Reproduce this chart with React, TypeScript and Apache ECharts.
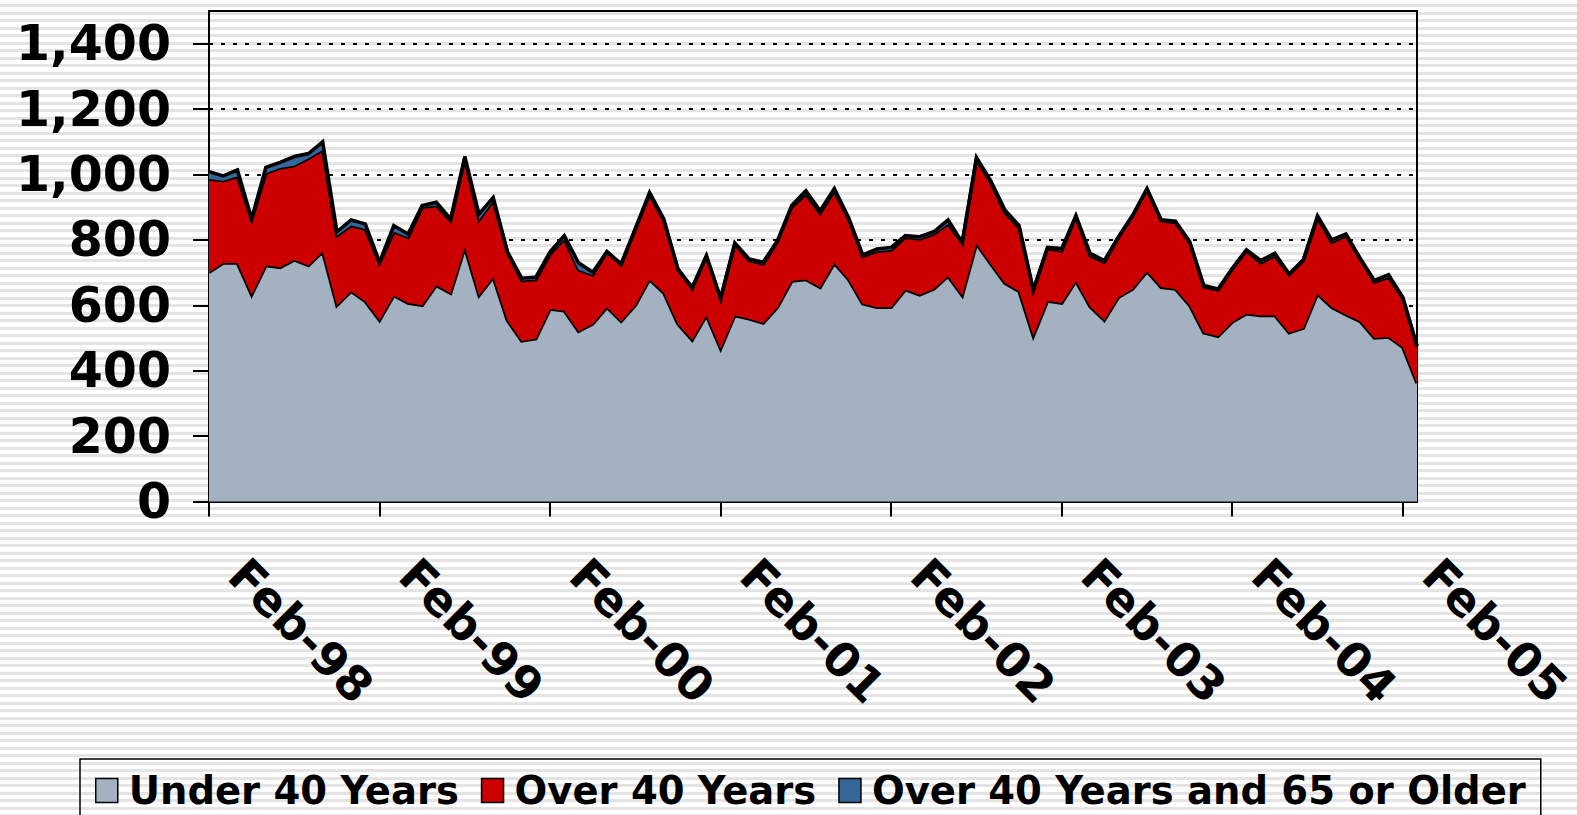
import React, { useEffect, useRef } from "react";
import * as echarts from "echarts";

const MONTHS = ["Jan", "Feb", "Mar", "Apr", "May", "Jun", "Jul", "Aug", "Sep", "Oct", "Nov", "Dec"];
const START_YEAR = 1998;
const START_MONTH = 1; // Feb
const POINT_COUNT = 86;

const Y_TICKS = [0, 200, 400, 600, 800, 1000, 1200, 1400];

const UNDER_40 = [
  701, 729, 729, 632, 722, 716, 739, 722, 764, 600,
  643, 612, 554, 630, 607, 600, 661, 637, 777, 630,
  686, 554, 491, 498, 589, 583, 521, 543, 594, 551,
  600, 679, 638, 543, 494, 569, 467, 569, 559, 546,
  594, 674, 679, 655, 729, 679, 605, 594, 594, 648,
  632, 650, 689, 630, 788, 727, 668, 643, 506, 613,
  607, 674, 596, 554, 625, 650, 704, 655, 650, 600,
  516, 505, 549, 574, 569, 569, 516, 530, 635, 594,
  571, 551, 500, 503, 472, 362,
];

const OVER_40 = [
  285, 252, 265, 230, 282, 304, 288, 328, 311, 213,
  201, 221, 175, 195, 201, 300, 244, 222, 271, 232,
  234, 208, 185, 181, 168, 220, 188, 150, 170, 173,
  233, 261, 221, 166, 158, 181, 153, 219, 178, 180,
  201, 226, 261, 227, 221, 185, 145, 171, 175, 160,
  171, 168, 160, 161, 259, 249, 216, 195, 139, 161,
  160, 198, 156, 178, 183, 224, 251, 204, 203, 193,
  141, 142, 162, 193, 161, 183, 178, 207, 234, 199,
  242, 191, 171, 183, 150, 112,
];

const OVER_65 = [
  23, 15, 20, 3, 18, 17, 28, 14, 25, 12,
  17, 16, 3, 19, 10, 5, 10, 5, 7, 17,
  10, 2, 7, 7, 7, 10, 21, 8, 0, 3,
  2, 5, 5, 2, 3, 2, 2, 3, 5, 6,
  3, 5, 10, 7, 7, 5, 4, 7, 8, 5,
  7, 7, 12, 2, 5, 5, 8, 6, 3, 3,
  7, 2, 7, 5, 2, 2, 2, 3, 4, 2,
  4, 3, 2, 3, 7, 7, 2, 2, 5, 7,
  5, 2, 5, 8, 3, 2,
];

const SERIES_NAMES = ["Under 40 Years", "Over 40 Years", "Over 40 Years and 65 or Older"];
const SERIES_COLORS = ["#A3B1C0", "#CC0000", "#336699"];

const CATEGORIES: string[] = [];
for (let i = 0; i < POINT_COUNT; i++) {
  const m = START_MONTH + i;
  const year = START_YEAR + Math.floor(m / 12);
  CATEGORIES.push(MONTHS[m % 12] + "-" + String(year % 100).padStart(2, "0"));
}

const FONT = "'DejaVu Sans', Verdana, sans-serif";

export default function App() {
  const ref = useRef<HTMLDivElement>(null);

  useEffect(() => {
    document.body.style.margin = "0";
    if (!ref.current) return;
    const chart = echarts.init(ref.current, undefined, { renderer: "svg" });
    const seriesData = [UNDER_40, OVER_40, OVER_65];
    chart.setOption({
      animation: false,
      backgroundColor: "transparent",
      grid: {
        left: 209,
        right: 160,
        top: 11,
        bottom: 313.5,
        show: true,
        borderColor: "#000",
        borderWidth: 2,
        backgroundColor: "transparent",
        containLabel: false,
        outerBoundsMode: "none",
      },
      legend: {
        left: 80,
        top: 759,
        orient: "horizontal",
        icon: "rect",
        itemWidth: 22,
        itemHeight: 24,
        itemGap: 22,
        borderColor: "#000",
        borderWidth: 1.5,
        padding: [12, 15, 20, 15],
        itemStyle: { borderColor: "#000", borderWidth: 1.5 },
        textStyle: {
          fontFamily: FONT,
          fontWeight: "bold",
          fontSize: 38.5,
          color: "#000",
          padding: [0, 0, 0, 6],
        },
        data: SERIES_NAMES,
      },
      xAxis: {
        type: "category",
        data: CATEGORIES,
        boundaryGap: false,
        axisLine: { show: true, lineStyle: { color: "#000", width: 2 } },
        axisTick: {
          show: true,
          interval: 11,
          length: 15,
          lineStyle: { color: "#000", width: 2 },
        },
        axisLabel: {
          interval: 11,
          rotate: -45,
          margin: 37,
          padding: [0, 0, 0, 40],
          fontFamily: FONT,
          fontWeight: "bold",
          fontSize: 47,
          lineHeight: 38,
          color: "#000",
        },
        splitLine: { show: false },
      },
      yAxis: {
        type: "value",
        min: 0,
        max: 1500,
        interval: 100,
        axisLine: { show: true, lineStyle: { color: "#000", width: 2 } },
        axisTick: {
          show: true,
          length: 16,
          customValues: Y_TICKS,
          lineStyle: { color: "#000", width: 2 },
        },
        axisLabel: {
          customValues: Y_TICKS,
          margin: 38,
          fontFamily: FONT,
          fontWeight: "bold",
          fontSize: 49,
          color: "#000",
          formatter: (v: number) => v.toLocaleString("en-US"),
        },
        splitLine: {
          show: true,
          lineStyle: { color: "#000", width: 2, type: [4, 8] },
        },
      },
      series: SERIES_NAMES.map((name, idx) => ({
        name,
        type: "line",
        stack: "total",
        data: seriesData[idx],
        symbol: "none",
        showSymbol: false,
        itemStyle: { color: SERIES_COLORS[idx] },
        lineStyle: { color: "#000", width: 3.5, join: "miter" },
        areaStyle: { color: SERIES_COLORS[idx], opacity: 1 },
        z: 2 + idx,
      })),
    });
    return () => chart.dispose();
  }, []);

  return (
    <div
      style={{
        width: 1577,
        height: 815,
        overflow: "hidden",
        background:
          "repeating-linear-gradient(180deg, #ffffff 0px, #ffffff 4.5px, #e4e4e4 4.5px, #e4e4e4 7.5px)",
      }}
    >
      <div ref={ref} style={{ width: 1577, height: 815 }} />
    </div>
  );
}
